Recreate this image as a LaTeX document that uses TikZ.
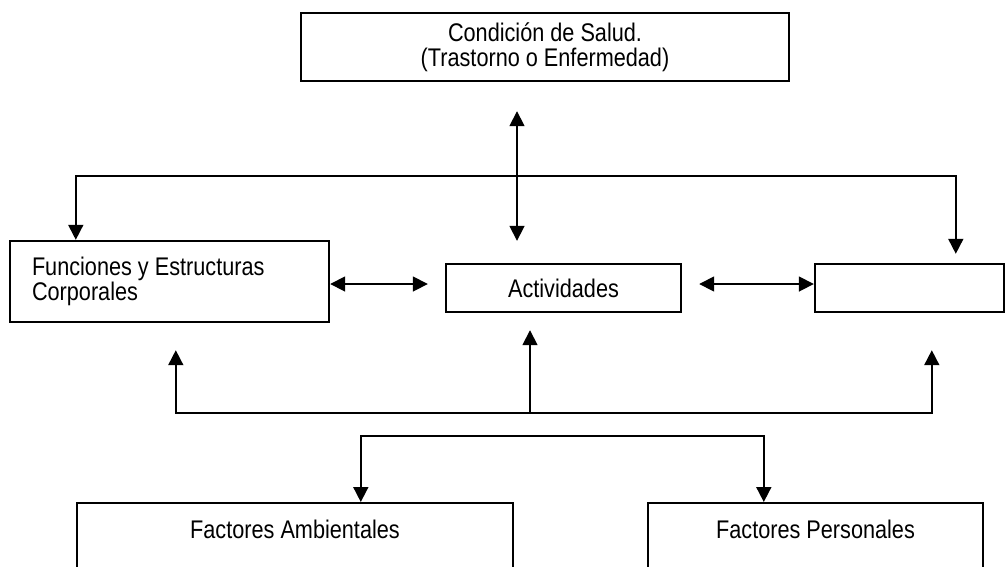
\documentclass[tikz,border=0pt]{standalone}
\usepackage{fontspec}
\setmainfont{Liberation Sans}[FakeStretch=0.85]
\usetikzlibrary{arrows.meta}

\tikzset{
  box/.style={draw=black, line width=2.4pt, rectangle, inner sep=0pt,
    font=\fontsize{25.5pt}{24.5pt}\selectfont},
  link/.style={draw=black, line width=1.7pt, line join=miter},
  arr/.style={link, -{Triangle[width=15pt,length=15pt]}},
  dbl/.style={link, {Triangle[width=15pt,length=15pt]}-{Triangle[width=15pt,length=15pt]}}
}

\begin{document}
\begin{tikzpicture}[x=1pt, y=-1pt]
\useasboundingbox (0,0) rectangle (1006,566);
\clip (0,0) rectangle (1006,566);

% boxes
\node[box, minimum width=488pt, minimum height=68pt, align=center] (top) at (545,47)
  {Condición de Salud.\\(Trastorno o Enfermedad)};
\node[box, minimum width=319pt, minimum height=81pt, inner xsep=22pt,
  text width=275pt, align=flush left] (fun) at (169.5,281.5)
  {Funciones y Estructuras\\Corporales};
\node[box, minimum width=235pt, minimum height=48pt] (act) at (563.5,288) {Actividades};
\node[box, minimum width=189pt, minimum height=48pt] (rb) at (909.5,288) {};
\node[box, minimum width=436pt, text height=35pt, text depth=63pt, anchor=north]
  (fa) at (295,502) {Factores Ambientales};
\node[box, minimum width=335pt, text height=35pt, text depth=63pt, anchor=north]
  (fp) at (815.5,502) {Factores Personales};

% junction points
\coordinate (cx) at (517,0);
\coordinate (h1) at (517,176);
\coordinate (ya) at (0,284);
\coordinate (h2) at (530,413);
\coordinate (h3) at (530,436);

% upper connections
\draw[dbl, shorten <=29pt, shorten >=22pt] (top.south -| cx) -- (act.north -| cx);
\draw[arr] (h1) -| ([xshift=67pt]fun.north west);
\draw[arr, shorten >=9pt] (h1) -| ([xshift=142pt]rb.north west);

% horizontal links
\draw[dbl, shorten >=17pt] (fun.east |- ya) -- (act.west |- ya);
\draw[dbl, shorten <=17pt] (act.east |- ya) -- (rb.west |- ya);

% lower connections
\draw[arr, shorten >=17pt] (h2) -- (act.south -| h2);
\draw[arr, shorten >=27pt] (h2) -| ([xshift=167pt]fun.south west);
\draw[arr, shorten >=37pt] (h2) -| ([xshift=118pt]rb.south west);
\draw[arr] (h3) -| ([xshift=285pt]fa.north west);
\draw[arr] (h3) -| ([xshift=117pt]fp.north west);
\end{tikzpicture}
\end{document}
